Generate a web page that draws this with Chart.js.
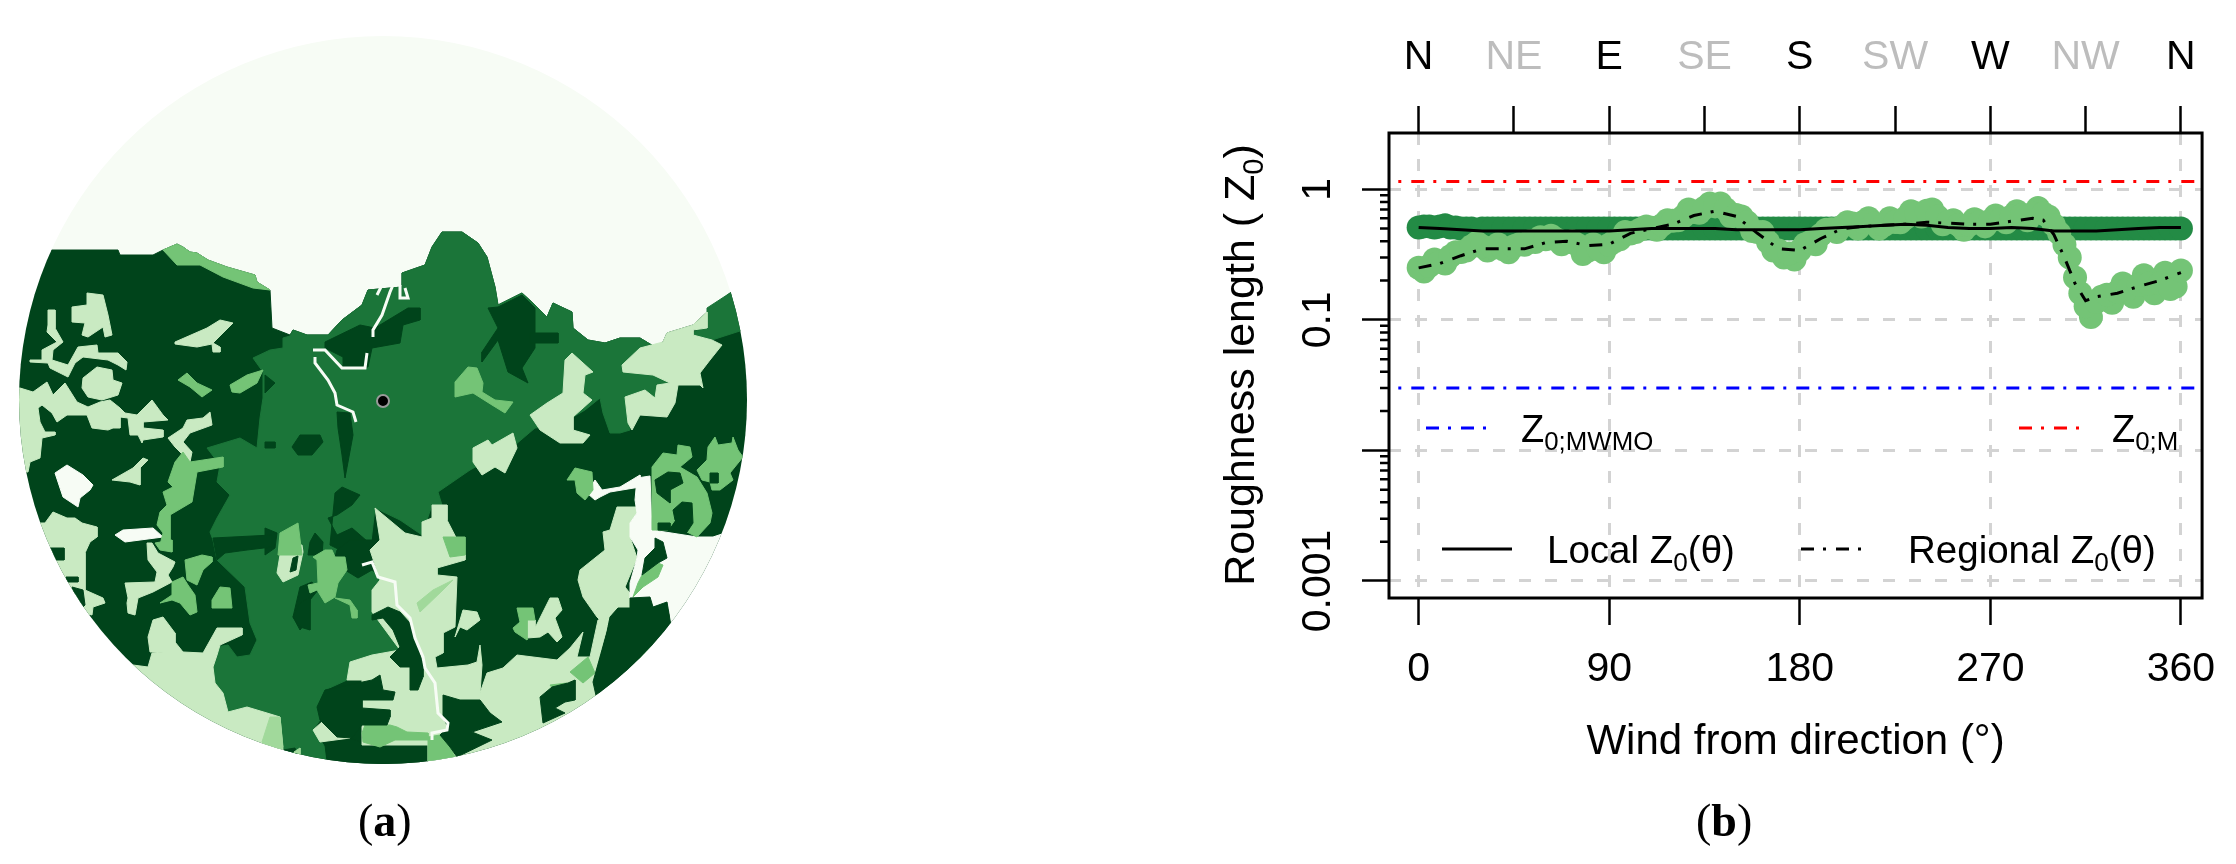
<!DOCTYPE html>
<html><head><meta charset="utf-8">
<script src="https://cdn.jsdelivr.net/npm/chart.js@4"></script>
<style>
html,body{margin:0;padding:0;background:#fff;width:2236px;height:864px;overflow:hidden}
canvas{position:absolute;top:0}
#m{left:0}#p{left:790px}
</style></head><body>
<canvas id="m" width="790" height="864"></canvas>
<canvas id="p" width="1446" height="864"></canvas>
<script>
// ---------- panel (b) data ----------
const windAngles=[0,5,10,15,20,25,30,35,40,45,50,55,60,65,70,75,80,85,90,95,100,105,110,115,120,125,130,135,140,145,150,155,160,165,170,175,180,185,190,195,200,205,210,215,220,225,230,235,240,245,250,255,260,265,270,275,280,285,290,295,300,305,310,315,320,325,330,335,340,345,350,355,360];
const regionalPoints=[.251,.258,.278,.307,.331,.366,.366,.357,.348,.366,.376,.395,.415,.415,.395,.376,.34,.348,.376,.415,.459,.495,.508,.534,.575,.62,.669,.722,.74,.704,.636,.561,.471,.395,.34,.323,.34,.395,.448,.495,.52,.547,.561,.547,.534,.561,.605,.653,.686,.62,.561,.534,.534,.561,.575,.59,.62,.636,.653,.653,.534,.376,.211,.127,.137,.156,.164,.172,.186,.19,.19,.172,.239];
const localPoints=[.51,.52,.52,.51,.5,.5,.5,.5,.5,.5,.5,.5,.5,.5,.5,.5,.5,.5,.5,.5,.5,.5,.5,.5,.5,.5,.5,.5,.5,.5,.5,.5,.5,.5,.5,.5,.5,.5,.5,.5,.5,.5,.5,.5,.5,.5,.5,.5,.5,.5,.5,.5,.5,.5,.5,.5,.5,.5,.5,.5,.5,.5,.5,.5,.5,.5,.5,.5,.5,.5,.5,.5,.5];
const midAngles=[2.5,7.5,12.5,17.5,22.5,27.5,32.5,37.5,42.5,47.5,52.5,57.5,62.5,67.5,72.5,77.5,82.5,87.5,92.5,97.5,102.5,107.5,112.5,117.5,122.5,127.5,132.5,137.5,142.5,147.5,152.5,157.5,162.5,167.5,172.5,177.5,182.5,187.5,192.5,197.5,202.5,207.5,212.5,217.5,222.5,227.5,232.5,237.5,242.5,247.5,252.5,257.5,262.5,267.5,272.5,277.5,282.5,287.5,292.5,297.5,302.5,307.5,312.5,317.5,322.5,327.5,332.5,337.5,342.5,347.5,352.5,357.5];
const regionalPointsMid=[.235,.29,.27,.33,.34,.39,.34,.38,.33,.38,.40,.43,.44,.38,.40,.32,.38,.33,.40,.47,.47,.52,.49,.58,.58,.70,.66,.78,.78,.62,.62,.48,.47,.34,.30,.29,.38,.38,.49,.47,.56,.50,.60,.50,.60,.56,.68,.62,.70,.54,.58,.49,.59,.52,.63,.56,.68,.58,.72,.62,.46,.30,.16,.105,.15,.135,.19,.15,.22,.16,.23,.18];
const localPointsMid=[.52,.51,.53,.51,.5,.49,.5,.5,.5,.5,.5,.5,.5,.5,.5,.5,.5,.5,.5,.5,.5,.5,.5,.5,.5,.5,.5,.5,.5,.5,.5,.5,.5,.5,.5,.5,.5,.5,.5,.5,.5,.5,.5,.5,.5,.5,.5,.5,.5,.5,.5,.5,.5,.5,.5,.5,.5,.5,.5,.5,.5,.5,.5,.5,.5,.5,.5,.5,.5,.5,.5,.5];
const lineAngles=[0,10,20,30,40,50,60,70,80,90,100,110,120,130,140,150,160,170,180,190,200,210,220,230,240,250,260,270,280,290,295,300,305,310,315,320,330,340,350,360];
const regionalLine=[.25,.27,.31,.35,.35,.35,.39,.40,.37,.38,.46,.50,.54,.63,.68,.62,.46,.35,.34,.42,.50,.52,.53,.54,.56,.55,.54,.54,.57,.60,.58,.45,.30,.19,.14,.15,.16,.18,.20,.23];
const localLine=[.51,.50,.49,.48,.48,.48,.48,.48,.48,.48,.49,.50,.50,.50,.50,.49,.49,.49,.49,.50,.51,.52,.53,.54,.53,.51,.50,.50,.51,.50,.49,.48,.48,.48,.48,.48,.49,.50,.51,.51];
const refAngles=[-20,380];
const z0M=[1.15,1.15];
const z0MWMO=[0.030,0.030];
const bottomTicks=[0,90,180,270,360];
const topTicks=[0,45,90,135,180,225,270,315,360];
const topLabels=['N','NE','E','SE','S','SW','W','NW','N'];
const decadeTicks=[0.001,0.01,0.1,1];
const decadeLabels=['0.001','','0.1','1'];
const minorTicks=[.002,.003,.004,.005,.006,.007,.008,.009,.02,.03,.04,.05,.06,.07,.08,.09,.2,.3,.4,.5,.6,.7,.8,.9];

// ---------- panel (a) data: land-cover patches ----------
const DARK='#00441b',MED='#1b7539',MID='#74c476',MIDL='#a1d99b',LIGHT='#c9eac2',PALE='#f7fcf5';
const paleBack=[[0,0],[790,0],[790,864],[0,864]];
const darkBase=[[0,250],[118,250],[120,255],[153,255],[163,250],[177,244],[183,247],[190,252],[197,253],[208,260],[227,267],[255,275],[257,282],[270,290],[272,328],[290,335],[293,330],[307,335],[328,335],[342,320],[362,305],[368,290],[402,287],[402,273],[425,265],[432,247],[442,232],[462,232],[478,243],[487,257],[495,287],[498,305],[522,293],[535,305],[547,317],[553,303],[572,312],[573,328],[588,340],[605,343],[620,338],[640,338],[655,347],[663,342],[667,333],[693,325],[707,312],[730,293],[790,250],[790,864],[0,864]];
const medMain=[[253,358],[270,350],[283,348],[283,338],[290,336],[293,330],[307,335],[328,335],[342,320],[362,305],[368,290],[402,287],[402,273],[425,265],[432,247],[442,232],[462,232],[478,243],[487,257],[495,287],[498,305],[522,293],[535,305],[547,317],[553,303],[572,312],[573,328],[588,340],[605,343],[620,338],[640,338],[655,347],[663,345],[640,350],[622,365],[623,372],[653,375],[670,383],[657,387],[657,400],[645,390],[625,397],[630,430],[620,433],[610,433],[603,413],[600,398],[585,410],[573,417],[560,425],[535,428],[515,445],[470,470],[438,492],[442,505],[432,505],[422,535],[400,520],[375,508],[370,550],[380,580],[372,590],[372,612],[400,650],[372,655],[350,662],[347,680],[325,690],[317,707],[320,720],[313,730],[325,747],[327,780],[283,780],[283,750],[280,717],[257,710],[247,707],[228,712],[223,693],[215,683],[213,667],[217,647],[228,645],[237,657],[250,655],[257,640],[250,623],[245,587],[217,560],[213,540],[210,532],[217,518],[230,495],[217,482],[220,465],[207,448],[240,438],[257,448],[260,418],[263,398],[263,372]];
const medNE=[[692,332],[707,328],[707,308],[730,293],[760,290],[743,330],[712,340],[693,335]];
const midRidge=[[163,250],[177,244],[183,247],[190,252],[197,253],[208,260],[227,267],[255,275],[257,282],[270,290],[253,288],[223,277],[200,265],[177,265]];
const darkBlobs=[
[[325,342],[360,325],[375,328],[408,308],[420,308],[420,320],[403,325],[400,343],[372,348],[368,367],[343,367],[343,357],[325,348]],
[[488,308],[498,328],[482,352],[482,362],[498,340],[508,372],[528,383],[522,368],[535,348],[535,308],[522,295],[498,307]],
[[530,333],[558,333],[558,343],[530,343]],
[[337,412],[350,413],[353,435],[348,462],[345,478],[342,455],[338,428]],
[[292,447],[300,435],[320,435],[323,442],[312,455],[298,455]],
[[265,442],[275,442],[275,448],[265,448]],
[[265,375],[275,383],[265,393]],
[[335,493],[342,487],[360,495],[352,505],[337,515],[328,518],[337,535],[352,528],[375,548],[368,555],[350,555],[330,545]],
[[315,533],[323,542],[322,555],[308,555],[310,542]],
[[265,528],[277,533],[275,548],[265,555]],
[[300,587],[312,582],[318,590],[310,600],[308,620],[300,630],[293,617]],
[[293,617],[300,603],[310,597],[310,630],[300,627]],
[[213,538],[272,535],[272,547],[247,550],[225,553],[217,560]],
[[350,540],[380,540],[368,550],[382,563],[382,577],[372,570],[358,578],[345,570],[345,558],[335,557],[337,550]],
[[283,750],[295,748],[300,765],[283,765]],
[[325,745],[350,738],[363,743],[380,747],[397,737],[428,740],[428,785],[330,785]]];
const light1=[[375,508],[405,533],[422,537],[422,522],[432,518],[432,505],[447,505],[447,520],[465,555],[465,560],[437,568],[437,575],[457,577],[455,627],[443,633],[443,653],[435,657],[437,668],[468,665],[477,662],[480,645],[482,665],[480,693],[487,673],[503,668],[517,655],[557,660],[570,648],[583,632],[577,657],[590,657],[598,620],[610,617],[593,682],[610,720],[610,800],[428,800],[428,745],[362,745],[362,680],[347,680],[350,662],[372,655],[400,650],[372,612],[372,590],[380,580],[370,550],[380,540]];
const light2=[[637,507],[617,507],[610,530],[603,532],[605,550],[595,558],[580,570],[578,580],[583,597],[597,617],[600,620],[610,617],[618,608],[630,608],[630,598],[633,597],[625,587],[637,558],[630,537],[630,523],[637,513]];
const lightPatches=[
[[622,365],[640,348],[663,342],[667,333],[693,325],[707,312],[707,328],[693,330],[693,335],[712,340],[722,345],[710,360],[700,373],[703,388],[700,385],[678,385],[675,403],[667,417],[640,415],[632,430],[628,423],[625,397],[645,390],[655,398],[657,385],[670,383],[653,375],[623,372]],
[[572,353],[593,372],[585,375],[583,393],[592,400],[573,417],[573,430],[590,435],[583,443],[560,443],[540,430],[530,415],[547,403],[563,393],[565,360]],
[[473,448],[488,440],[492,445],[513,433],[517,448],[505,473],[495,467],[482,475],[473,462]],
[[20,388],[33,392],[47,382],[53,395],[65,383],[77,402],[88,407],[100,402],[110,400],[120,408],[125,413],[137,415],[152,400],[163,415],[168,420],[143,422],[143,428],[163,430],[163,437],[143,440],[142,443],[138,435],[130,435],[128,418],[120,417],[120,428],[113,428],[108,430],[92,428],[87,415],[67,415],[57,422],[52,413],[42,405],[38,408],[40,422],[45,432],[55,432],[55,435],[42,438],[40,458],[30,462],[28,472],[0,472],[0,388]],
[[48,310],[55,310],[55,328],[63,342],[53,350],[52,360],[68,365],[78,347],[97,345],[98,353],[118,353],[127,362],[126,370],[118,365],[108,360],[83,357],[75,363],[68,377],[50,368],[48,363],[30,362],[30,360],[42,360],[42,350],[57,342],[47,332],[48,325]],
[[87,293],[103,295],[108,315],[112,335],[105,337],[103,327],[88,337],[82,335],[85,323],[72,322],[72,307],[87,305]],
[[97,367],[112,370],[113,380],[122,383],[118,395],[102,400],[88,397],[82,388],[83,378]],
[[175,342],[207,328],[220,320],[233,323],[213,343],[220,347],[220,352],[213,352],[212,344],[197,347],[175,344]],
[[168,438],[183,428],[187,420],[203,418],[210,412],[212,425],[190,433],[183,442],[192,452],[190,462],[183,455],[175,447]],
[[112,480],[133,468],[143,458],[148,460],[140,468],[140,485],[130,482]],
[[30,523],[45,523],[53,512],[67,518],[75,518],[82,523],[97,527],[97,537],[90,542],[85,553],[85,590],[103,598],[105,603],[93,607],[92,615],[30,600]],
[[125,583],[155,582],[157,572],[148,560],[147,543],[152,543],[158,553],[175,562],[173,567],[168,575],[172,582],[153,592],[138,598],[135,615],[128,613],[127,603],[128,598]],
[[133,665],[148,667],[152,653],[163,652],[150,652],[148,637],[153,620],[163,617],[175,633],[175,642],[183,652],[203,653],[217,628],[242,628],[242,635],[220,645],[217,655],[213,667],[215,683],[223,693],[228,712],[247,707],[267,713],[280,717],[283,750],[283,800],[100,800]],
[[277,573],[280,555],[292,545],[302,545],[303,552],[298,575],[283,582]],
[[540,618],[550,598],[558,598],[562,610],[555,618],[562,637],[557,642],[548,632],[540,637],[527,638],[527,620],[535,620],[535,628]],
[[455,637],[463,610],[477,612],[480,620],[467,630],[460,627]],
[[313,730],[322,722],[332,728],[350,728],[350,738],[320,742]]];
const midPatches=[
[[567,480],[575,468],[592,472],[593,490],[585,500],[577,493],[575,480]],
[[652,467],[663,453],[677,455],[678,445],[690,447],[692,457],[680,467],[697,477],[707,493],[712,513],[710,523],[697,537],[687,532],[675,520],[668,530],[652,530]],
[[697,470],[707,460],[708,447],[715,437],[718,445],[732,443],[733,437],[738,450],[743,457],[730,473],[733,480],[720,490],[712,490],[710,482],[702,480]],
[[455,382],[468,367],[477,368],[483,383],[482,392],[495,400],[513,402],[505,413],[492,405],[473,393],[455,397]],
[[178,380],[187,373],[197,383],[212,390],[202,397],[190,387]],
[[230,385],[247,375],[263,370],[257,383],[240,393],[232,392]],
[[183,452],[190,462],[223,457],[223,467],[197,472],[192,502],[170,515],[170,550],[160,545],[163,533],[157,525],[160,512],[167,505],[163,492],[173,487],[168,482],[175,462]],
[[185,560],[202,555],[212,557],[212,562],[203,570],[197,585],[187,580]],
[[172,582],[183,577],[188,585],[195,595],[197,612],[190,615],[180,603],[172,600],[160,603],[172,595]],
[[212,600],[220,587],[230,588],[232,608],[212,608]],
[[155,543],[172,540],[172,552],[160,550]],
[[313,557],[325,550],[332,550],[335,557],[345,557],[347,570],[338,583],[335,597],[325,603],[317,590],[310,593],[308,585],[318,583],[317,560]],
[[335,598],[350,600],[357,610],[357,618],[352,618],[350,605]],
[[280,533],[298,523],[302,555],[278,555]],
[[443,537],[465,537],[465,555],[450,557]],
[[362,733],[365,725],[390,725],[397,727],[407,732],[428,733],[428,740],[395,740],[380,747],[363,742]],
[[428,737],[440,735],[450,747],[455,757],[428,775]],
[[570,672],[588,657],[595,673],[583,683]],
[[550,685],[567,683],[570,688],[553,689]],
[[637,653],[642,642],[652,648],[640,662]],
[[642,575],[658,563],[663,565],[658,577],[643,587],[633,597],[638,583]],
[[517,608],[533,608],[535,620],[527,620],[527,640],[515,632],[513,628],[520,622]]];
const midLightPatches=[
[[262,742],[270,717],[280,717],[283,747],[275,760]],
[[417,603],[433,590],[453,580],[443,590],[420,612]],
[[294,752],[300,748],[300,765],[294,765]]];
const paleRight=[[637,478],[650,476],[652,530],[697,537],[713,537],[728,532],[790,520],[790,800],[670,630],[670,615],[667,602],[653,607],[650,597],[630,598],[630,583],[637,558],[638,550],[630,537],[630,523],[637,513],[635,500]];
const paleBlobs=[
[[55,473],[67,465],[83,475],[93,485],[90,490],[80,498],[78,507],[63,497],[58,482]],
[[115,535],[123,530],[153,528],[163,537],[125,542]],
[[587,493],[595,480],[602,490],[620,487],[640,475],[640,487],[610,492],[600,497],[595,500]]];
const darkTop=[
[[443,695],[460,700],[480,700],[490,713],[502,722],[472,732],[492,740],[457,757],[450,747],[440,735],[448,727],[443,717]],
[[540,697],[552,687],[568,683],[575,680],[575,700],[565,702],[555,708],[565,713],[543,723]],
[[593,682],[607,632],[610,617],[618,608],[630,608],[630,598],[650,597],[653,607],[667,602],[670,620],[690,720],[597,700]],
[[655,538],[663,542],[667,558],[658,563],[642,575],[645,558],[655,548]],
[[655,480],[668,472],[680,473],[683,483],[670,490],[670,503],[657,493]],
[[673,510],[682,502],[692,503],[693,523],[687,532],[675,520]],
[[658,523],[670,523],[670,530],[658,530]],
[[710,473],[718,473],[718,483],[710,483]],
[[372,615],[388,607],[400,612],[410,623],[415,640],[423,663],[423,677],[418,690],[410,690],[410,667],[400,667],[390,657],[400,647],[393,630],[383,618],[372,620]],
[[325,690],[372,680],[380,675],[383,690],[395,692],[393,700],[362,700],[362,708],[390,710],[390,717],[387,725],[362,725],[352,738],[337,737],[320,720],[317,707]],
[[40,548],[64,548],[64,560],[55,560],[50,570]],
[[66,577],[78,577],[78,582],[66,582]],
[[72,587],[83,590],[85,605],[80,610]],
[[290,572],[293,558],[298,556],[296,570]]];
const streams=[
[[313,350],[325,350],[342,368],[365,368],[367,353]],
[[315,357],[315,363],[328,380],[335,393],[337,405],[353,412],[356,422]],
[[373,337],[373,330],[382,315],[390,292],[393,285]],
[[382,285],[377,295]],
[[400,285],[400,298],[408,298],[405,288]],
[[362,565],[372,562],[378,577],[395,582],[397,605],[410,618],[415,638],[423,657],[425,668],[435,683],[438,713],[448,723],[447,730],[432,733],[432,740]]];
const siteMarker=[[383,401]];
const circleCentre=[383,400],circleRadius=364;

// ---------- panel (a) chart ----------
const toXY=a=>a.map(p=>({x:p[0],y:p[1]}));
const closed=a=>toXY(a.concat([a[0]]));
const layers=[];
const addPoly=(a,c)=>layers.push({data:closed(a),showLine:true,fill:'shape',backgroundColor:c,borderColor:c,borderWidth:1,pointRadius:0,tension:0});
addPoly(paleBack,PALE);
addPoly(darkBase,DARK);
addPoly(midRidge,MID);
addPoly(medMain,MED);
addPoly(medNE,MED);
darkBlobs.forEach(a=>addPoly(a,DARK));
addPoly(light1,LIGHT);addPoly(light2,LIGHT);
lightPatches.forEach(a=>addPoly(a,LIGHT));
addPoly(paleRight,PALE);
paleBlobs.forEach(a=>addPoly(a,PALE));
midPatches.forEach(a=>addPoly(a,MID));
midLightPatches.forEach(a=>addPoly(a,MIDL));
darkTop.forEach(a=>addPoly(a,DARK));
streams.forEach(a=>layers.push({data:toXY(a),showLine:true,fill:false,borderColor:PALE,borderWidth:3,pointRadius:0}));
layers.push({data:toXY(siteMarker),showLine:false,pointRadius:6,pointBackgroundColor:'#000',pointBorderColor:'#9a9a9a',pointBorderWidth:2});
layers.forEach((d,i)=>d.order=layers.length-i);

function caption(ctx,letter,x,y){
 ctx.save();ctx.fillStyle='#000';ctx.textBaseline='alphabetic';ctx.textAlign='left';
 ctx.font='46px "Liberation Serif"';ctx.fillText('(',x,y);let w=ctx.measureText('(').width;
 ctx.font='bold 46px "Liberation Serif"';ctx.fillText(letter,x+w,y);w+=ctx.measureText(letter).width;
 ctx.font='46px "Liberation Serif"';ctx.fillText(')',x+w,y);ctx.restore();
}
const circleClip={id:'circleClip',
 beforeDatasetsDraw(c){const x=c.scales.x,y=c.scales.y,ctx=c.ctx;ctx.save();ctx.beginPath();
  ctx.arc(x.getPixelForValue(circleCentre[0]),y.getPixelForValue(circleCentre[1]),circleRadius,0,Math.PI*2);ctx.clip();},
 afterDatasetsDraw(c){c.ctx.restore();caption(c.ctx,'a',358,836);}};
Chart.defaults.font.family='"Liberation Sans"';
new Chart(document.getElementById('m'),{type:'scatter',data:{datasets:layers},plugins:[circleClip],
 options:{responsive:false,animation:false,devicePixelRatio:1,layout:{padding:0,autoPadding:false},
  plugins:{legend:{display:false},tooltip:{enabled:false}},
  scales:{x:{type:'linear',min:0,max:790,display:false},y:{type:'linear',min:0,max:864,reverse:true,display:false}}}});

// ---------- panel (b) chart ----------
const DD=[13,9,3,10];
const series=[
 {data:refAngles.map((x,i)=>({x,y:z0M[i]})),borderColor:'#ff0000',borderWidth:3,borderDash:DD,pointRadius:0,showLine:true},
 {data:refAngles.map((x,i)=>({x,y:z0MWMO[i]})),borderColor:'#0000ff',borderWidth:3,borderDash:DD,pointRadius:0,showLine:true},
 {data:lineAngles.map((x,i)=>({x,y:regionalLine[i]})),borderColor:'#000',borderWidth:3,borderDash:DD,pointRadius:0,showLine:true},
 {data:lineAngles.map((x,i)=>({x,y:localLine[i]})),borderColor:'#000',borderWidth:3,pointRadius:0,showLine:true},
 {data:windAngles.map((x,i)=>({x,y:regionalPoints[i]})),pointRadius:12,pointBackgroundColor:'#74c476',pointBorderWidth:0,showLine:false},
 {data:midAngles.map((x,i)=>({x,y:regionalPointsMid[i]})),pointRadius:12,pointBackgroundColor:'#74c476',pointBorderWidth:0,showLine:false},
 {data:windAngles.map((x,i)=>({x,y:localPoints[i]})),pointRadius:12,pointBackgroundColor:'#238b45',pointBorderWidth:0,showLine:false},
 {data:midAngles.map((x,i)=>({x,y:localPointsMid[i]})),pointRadius:12,pointBackgroundColor:'#238b45',pointBorderWidth:0,showLine:false}
];
series.forEach((d,i)=>{d.order=i;d.xAxisID='x';d.yAxisID='y';});

function mixed(ctx,parts,x,y,size,align){ // parts: [text,isSub]
 let tot=0;parts.forEach(p=>{ctx.font=(p[1]?size*0.68:size)+'px "Liberation Sans"';tot+=ctx.measureText(p[0]).width;});
 let cx=align==='center'?x-tot/2:x;ctx.textAlign='left';ctx.textBaseline='alphabetic';
 parts.forEach(p=>{ctx.font=(p[1]?size*0.68:size)+'px "Liberation Sans"';ctx.fillText(p[0],cx,y+(p[1]?size*0.22:0));cx+=ctx.measureText(p[0]).width;});
}
const plotDeco={id:'plotDeco',
 afterDatasetsDraw(c){const ctx=c.ctx,a=c.chartArea,ys=c.scales.y,ox=790;ctx.save();
  ctx.strokeStyle='#000';ctx.lineWidth=3;ctx.strokeRect(a.left,a.top,a.right-a.left,a.bottom-a.top);
  ctx.lineWidth=2.5;ctx.beginPath();
  minorTicks.forEach(v=>{const p=ys.getPixelForValue(v);ctx.moveTo(a.left,p);ctx.lineTo(a.left-9,p);});ctx.stroke();
  const seg=(x0,x1,y,col,dash)=>{ctx.strokeStyle=col;ctx.lineWidth=3;ctx.setLineDash(dash);ctx.beginPath();ctx.moveTo(x0-ox,y);ctx.lineTo(x1-ox,y);ctx.stroke();ctx.setLineDash([]);};
  seg(1426,1487,428,'#0000ff',DD);seg(2019,2079,428,'#ff0000',DD);
  seg(1442,1512,549,'#000',[]);seg(1801,1868,549,'#000',DD);
  ctx.fillStyle='#000';
  mixed(ctx,[['Z',0],['0;MWMO',1]],1521-ox,442,38,'left');
  mixed(ctx,[['Z',0],['0;M',1]],2112-ox,442,38,'left');
  mixed(ctx,[['Local Z',0],['0',1],['(θ)',0]],1547-ox,563,38.5,'left');
  mixed(ctx,[['Regional Z',0],['0',1],['(θ)',0]],1908-ox,563,38.5,'left');
  ctx.save();ctx.translate(1254-ox,365);ctx.rotate(-Math.PI/2);
  mixed(ctx,[['Roughness length ( Z',0],['0',1],[')',0]],0,0,43,'center');ctx.restore();
  caption(ctx,'b',1696-ox,836);
  ctx.restore();}};

new Chart(document.getElementById('p'),{type:'scatter',data:{datasets:series},plugins:[plotDeco],
 options:{responsive:false,animation:false,devicePixelRatio:1,layout:{autoPadding:false,padding:{right:30,left:0,top:0,bottom:0}},
  plugins:{legend:{display:false},tooltip:{enabled:false}},
  scales:{
   x:{type:'linear',position:'bottom',min:-14,max:370,
    afterBuildTicks:s=>{s.ticks=bottomTicks.map(v=>({value:v}));},
    afterFit:s=>{s.height=266;},
    ticks:{autoSkip:false,maxRotation:0,color:'#000',font:{size:41},padding:20,callback:v=>String(v)},
    grid:{color:'#d3d3d3',lineWidth:3,tickLength:27,tickColor:'#000',tickWidth:2.5},
    border:{display:false,dash:[12,14]},
    title:{display:true,text:'Wind from direction (°)',color:'#000',font:{size:42},padding:{top:16,bottom:96}}},
   x2:{type:'linear',position:'top',min:-14,max:370,
    afterBuildTicks:s=>{s.ticks=topTicks.map(v=>({value:v}));},
    afterFit:s=>{s.height=133;},
    ticks:{autoSkip:false,maxRotation:0,font:{size:41},padding:24,
     color:c=>topLabels[c.index]&&topLabels[c.index].length>1?'#bdbdbd':'#000',
     callback:(v,i)=>topLabels[i]},
    grid:{drawOnChartArea:false,tickLength:27,tickColor:'#000',tickWidth:2.5},
    border:{display:false}},
   y:{type:'logarithmic',position:'left',min:0.00074,max:2.70,
    afterBuildTicks:s=>{s.ticks=decadeTicks.map(v=>({value:v}));},
    afterFit:s=>{s.width=599;},
    ticks:{autoSkip:false,minRotation:90,maxRotation:90,crossAlign:'center',color:'#000',font:{size:41},padding:-8,
     callback:(v,i)=>decadeLabels[decadeTicks.indexOf(v)]},
    grid:{color:'#d3d3d3',lineWidth:3,tickLength:27,tickColor:'#000',tickWidth:2.5},
    border:{display:false,dash:[12,14]}}
  }}});
</script></body></html>
